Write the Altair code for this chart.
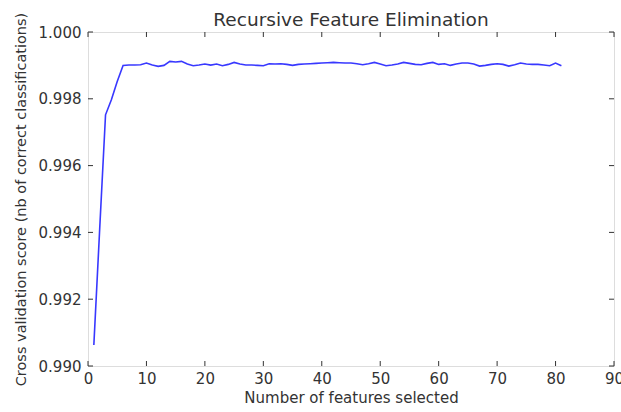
import altair as alt
import pandas as pd

features = list(range(1, 82))
scores = [
    0.99063, 0.99410, 0.99752, 0.99797, 0.99852, 0.99900, 0.99901, 0.99901, 0.99902, 0.99907,
    0.99901, 0.99897, 0.99900, 0.99912, 0.99910, 0.99912, 0.99904, 0.99899, 0.99901, 0.99904,
    0.99901, 0.99904, 0.99899, 0.99903, 0.99909, 0.99904, 0.99901, 0.99901, 0.99900, 0.99899,
    0.99905, 0.99904, 0.99905, 0.99903, 0.99900, 0.99903, 0.99904, 0.99905, 0.99906, 0.99907,
    0.99908, 0.99909, 0.99908, 0.99907, 0.99907, 0.99905, 0.99902, 0.99905, 0.99909, 0.99904,
    0.99899, 0.99901, 0.99904, 0.99909, 0.99906, 0.99903, 0.99902, 0.99906, 0.99909, 0.99903,
    0.99905, 0.99900, 0.99904, 0.99907, 0.99907, 0.99904, 0.99898, 0.99900, 0.99903, 0.99905,
    0.99903, 0.99898, 0.99902, 0.99907, 0.99904, 0.99903, 0.99903, 0.99901, 0.99899, 0.99907,
    0.99899,
]
x_ticks = [0, 10, 20, 30, 40, 50, 60, 70, 80, 90]
y_ticks = [0.990, 0.992, 0.994, 0.996, 0.998, 1.000]

W, H = 526, 334
TL = 5
FONT = "DejaVu Sans"

df = pd.DataFrame({"features": features, "score": scores})
dfx = pd.DataFrame({"t": x_ticks})
dfy = pd.DataFrame({"t": y_ticks})

xscale = alt.Scale(domain=[0, 90], nice=False, zero=False)
yscale = alt.Scale(domain=[0.990, 1.000], nice=False, zero=False)

line = alt.Chart(df).mark_line(color="#3838ff", strokeWidth=1.6).encode(
    x=alt.X("features:Q", scale=xscale,
            axis=alt.Axis(values=x_ticks, format="d", title="Number of features selected",
                          ticks=False, domain=False, grid=False, labelPadding=5,
                          labelFlush=False, labelOverlap=False, labelBound=False,
                          labelFontSize=15, titleFontSize=15, titlePadding=4,
                          labelColor="#333", titleColor="#333", labelFont=FONT, titleFont=FONT,
                          titleFontWeight="normal")),
    y=alt.Y("score:Q", scale=yscale,
            axis=alt.Axis(values=y_ticks, format=".3f",
                          title="Cross validation score (nb of correct classifications)",
                          ticks=False, domain=False, grid=False, labelPadding=7,
                          labelFlush=False, labelOverlap=False,
                          labelFontSize=15, titleFontSize=14.5, titlePadding=10,
                          labelColor="#333", titleColor="#333", labelFont=FONT, titleFont=FONT,
                          titleFontWeight="normal")),
)

xt_bottom = alt.Chart(dfx).mark_rule(color="#333", strokeWidth=1).encode(
    x=alt.X("t:Q", scale=xscale), y=alt.value(H), y2=alt.value(H - TL))
xt_top = alt.Chart(dfx).mark_rule(color="#333", strokeWidth=1).encode(
    x=alt.X("t:Q", scale=xscale), y=alt.value(0), y2=alt.value(TL))
yt_left = alt.Chart(dfy).mark_rule(color="#333", strokeWidth=1).encode(
    y=alt.Y("t:Q", scale=yscale), x=alt.value(0), x2=alt.value(TL))
yt_right = alt.Chart(dfy).mark_rule(color="#333", strokeWidth=1).encode(
    y=alt.Y("t:Q", scale=yscale), x=alt.value(W - TL), x2=alt.value(W))

chart = alt.layer(line, xt_bottom, xt_top, yt_left, yt_right).properties(
    width=W, height=H,
    title=alt.TitleParams("Recursive Feature Elimination", fontSize=18.5, font=FONT,
                          fontWeight="normal", color="#333", offset=-17, frame="group"),
    autosize=alt.AutoSizeParams(type="none"),
    padding={"left": 88, "top": 32, "right": 7, "bottom": 46},
).configure_view(stroke="#222", strokeWidth=1.3).configure(background="white")

chart.save("out.html", embed_options={"renderer": "svg", "actions": False})
